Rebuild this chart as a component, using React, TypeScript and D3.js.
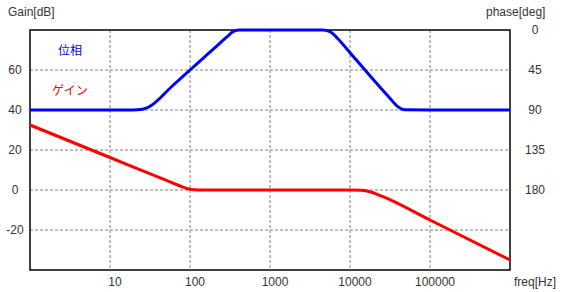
import React from "react";
import * as d3 from "d3";

const freqTicks = [10, 100, 1000, 10000, 100000];
const gainTicks = [-20, 0, 20, 40, 60];
const phaseTicks = [0, 45, 90, 135, 180];

const gainFreq = [1, 10, 50, 80, 100, 130, 200, 1000, 10000, 14000, 17800, 25000, 100000, 1000000];
const gainDb = [32.5, 16.25, 4.9, 1.6, 0.35, 0.03, 0, 0, 0, -0.15, -0.9, -3.1, -15, -35];

const phaseFreq = [1, 10, 22, 30, 60, 100, 200, 300, 350, 420, 1000, 4500, 5600, 7000, 10000, 15400, 30000, 40000, 48000, 100000, 1000000];
const phaseDeg = [90, 90, 89.8, 87, 63, 45, 20.6, 6.5, 1.5, 0, 0, 0, 1.8, 9.5, 25.5, 45, 74.5, 86.5, 89.8, 90, 90];

const W = 571, H = 292;
const L = 30, R = 510, T = 30, B = 270;
const font = "'Liberation Sans', Arial, sans-serif";

export default function App() {
  const x = d3.scaleLog().domain([1, 1e6]).range([L, R]);
  const yG = d3.scaleLinear().domain([-40, 80]).range([B, T]);
  const yP = d3.scaleLinear().domain([0, 270]).range([T, B]);

  const gainLine = d3.line<number>()
    .x((_, i) => x(gainFreq[i]))
    .y((d) => yG(d))
    .curve(d3.curveMonotoneX);
  const phaseLine = d3.line<number>()
    .x((_, i) => x(phaseFreq[i]))
    .y((d) => yP(d))
    .curve(d3.curveMonotoneX);

  return (
    <svg width={W} height={H} style={{ position: "absolute", left: 0, top: 0 }} fontFamily={font}>
      <rect x={0} y={0} width={W} height={H} fill="#fff" />
      {gainTicks.map((t) => (
        <line key={"hg" + t} x1={L} x2={R} y1={yG(t)} y2={yG(t)} stroke="#808080" strokeDasharray="3,2" />
      ))}
      {freqTicks.map((t) => (
        <line key={"vg" + t} x1={x(t)} x2={x(t)} y1={T} y2={B} stroke="#808080" strokeDasharray="3,2" />
      ))}
      <rect x={L} y={T} width={R - L} height={B - T} fill="none" stroke="#000" strokeWidth={1.5} />
      <path d={gainLine(gainDb) || ""} fill="none" stroke="#ff0000" strokeWidth={3} strokeLinejoin="round" />
      <path d={phaseLine(phaseDeg) || ""} fill="none" stroke="#0000ff" strokeWidth={3} strokeLinejoin="round" />
      {gainTicks.map((t) => (
        <text key={"gl" + t} x={15} y={yG(t) + 4} textAnchor="middle" fontSize={12} fill="#333">{t}</text>
      ))}
      {phaseTicks.map((t) => (
        <text key={"pl" + t} x={535} y={yP(t) + 4} textAnchor="middle" fontSize={12} fill="#333">{t}</text>
      ))}
      {freqTicks.map((t) => (
        <text key={"fl" + t} x={x(t) + 5} y={286} textAnchor="middle" fontSize={12} fill="#333">{t}</text>
      ))}
      <text x={8} y={16} fontSize={12} fill="#333">Gain[dB]</text>
      <text x={486} y={16} fontSize={12} fill="#333">phase[deg]</text>
      <text x={514} y={286} fontSize={12} fill="#333">freq[Hz]</text>
      <text x={58} y={55} fontSize={12} fill="#0000ff" fontFamily="'Noto Sans CJK JP', sans-serif">位相</text>
      <text x={52} y={95} fontSize={12} fill="#ff0000" fontFamily="'Noto Sans CJK JP', sans-serif">ゲイン</text>
    </svg>
  );
}
